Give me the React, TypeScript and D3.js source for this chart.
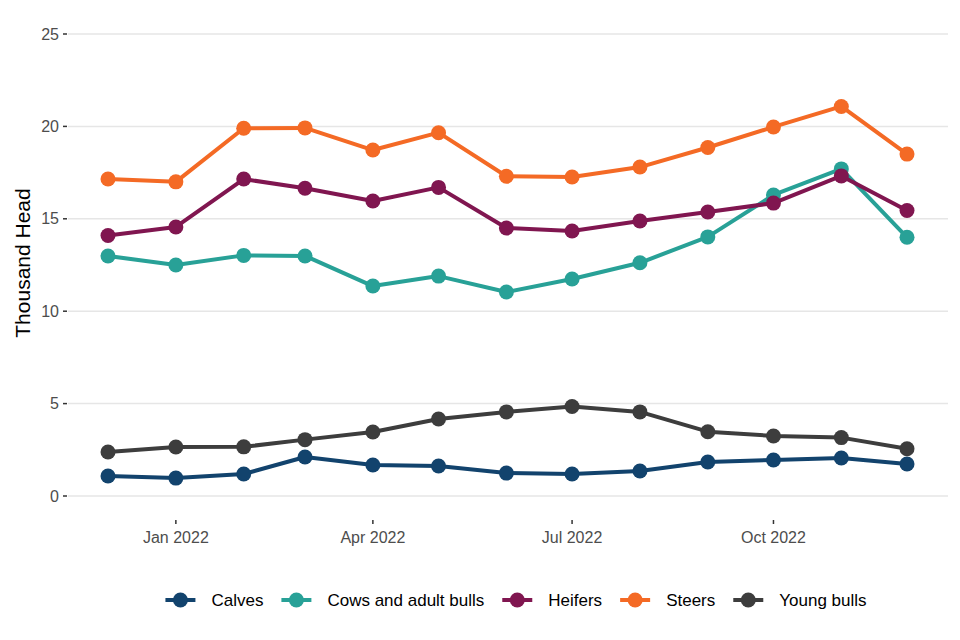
import React, { useEffect, useRef } from 'react';
import * as d3 from 'd3';

const months = [
  '2021-12', '2022-01', '2022-02', '2022-03', '2022-04', '2022-05', '2022-06',
  '2022-07', '2022-08', '2022-09', '2022-10', '2022-11', '2022-12',
];

const calves = [1.08, 0.97, 1.19, 2.11, 1.68, 1.62, 1.24, 1.19, 1.35, 1.84, 1.95, 2.06, 1.73];
const cows = [12.99, 12.5, 13.02, 12.99, 11.36, 11.9, 11.04, 11.74, 12.62, 14.02, 16.29, 17.7, 14.0];
const heifers = [14.1, 14.56, 17.15, 16.65, 15.96, 16.7, 14.5, 14.34, 14.88, 15.37, 15.85, 17.32, 15.45];
const steers = [17.15, 17.0, 19.9, 19.92, 18.72, 19.66, 17.3, 17.26, 17.8, 18.86, 19.97, 21.08, 18.5];
const youngBulls = [2.38, 2.65, 2.66, 3.05, 3.46, 4.17, 4.55, 4.84, 4.55, 3.48, 3.25, 3.16, 2.56];

const seriesNames = ['Calves', 'Cows and adult bulls', 'Heifers', 'Steers', 'Young bulls'];
const seriesValues = [calves, cows, heifers, steers, youngBulls];
const seriesColors = ['#12436D', '#28A197', '#801650', '#F46A25', '#3D3D3D'];

const xTicks = ['2022-01', '2022-04', '2022-07', '2022-10'];
const yTicks = [0, 5, 10, 15, 20, 25];

const parseMonth = d3.timeParse('%Y-%m');

const App: React.FC = () => {
  const ref = useRef<SVGSVGElement>(null);

  useEffect(() => {
    if (!ref.current) return;
    const svg = d3.select(ref.current);
    svg.selectAll('*').remove();

    const font = '"Liberation Sans", Arial, sans-serif';
    const panelLeft = 68;
    const panelRight = 948;

    const dates = months.map(m => parseMonth(m) as Date);
    const x = d3.scaleTime()
      .domain([dates[0], dates[dates.length - 1]])
      .range([108, 907]);
    const y = d3.scaleLinear().domain([0, 25]).range([496, 34]);

    // gridlines
    svg.append('g')
      .selectAll('line')
      .data(yTicks)
      .enter()
      .append('line')
      .attr('x1', panelLeft)
      .attr('x2', panelRight)
      .attr('y1', d => y(d))
      .attr('y2', d => y(d))
      .attr('stroke', '#e6e6e6')
      .attr('stroke-width', 1.5);

    // y axis ticks + labels
    const yAxis = svg.append('g');
    yTicks.forEach(t => {
      yAxis.append('line')
        .attr('x1', 63).attr('x2', 67)
        .attr('y1', y(t)).attr('y2', y(t))
        .attr('stroke', '#333').attr('stroke-width', 1.5);
      yAxis.append('text')
        .attr('x', 59).attr('y', y(t))
        .attr('dy', '0.35em')
        .attr('text-anchor', 'end')
        .attr('font-family', font)
        .attr('font-size', 16)
        .attr('fill', '#4d4d4d')
        .text(t);
    });

    // x axis ticks + labels
    const xAxis = svg.append('g');
    xTicks.forEach(m => {
      const d = parseMonth(m) as Date;
      xAxis.append('line')
        .attr('x1', x(d)).attr('x2', x(d))
        .attr('y1', 520).attr('y2', 524)
        .attr('stroke', '#333').attr('stroke-width', 1.5);
      xAxis.append('text')
        .attr('x', x(d)).attr('y', 537)
        .attr('dy', '0.35em')
        .attr('text-anchor', 'middle')
        .attr('font-family', font)
        .attr('font-size', 16)
        .attr('fill', '#4d4d4d')
        .text(d3.timeFormat('%b %Y')(d));
    });

    // y title
    svg.append('text')
      .attr('transform', `translate(30,${263}) rotate(-90)`)
      .attr('text-anchor', 'middle')
      .attr('font-family', font)
      .attr('font-size', 21)
      .attr('fill', '#000')
      .text('Thousand Head');

    // lines and points
    const line = d3.line<number>()
      .x((_, i) => x(dates[i]))
      .y(d => y(d));

    seriesValues.forEach((vals, si) => {
      const g = svg.append('g');
      g.append('path')
        .datum(vals)
        .attr('d', line)
        .attr('fill', 'none')
        .attr('stroke', seriesColors[si])
        .attr('stroke-width', 4)
        .attr('stroke-linejoin', 'round');
      g.selectAll('circle')
        .data(vals)
        .enter()
        .append('circle')
        .attr('cx', (_, i) => x(dates[i]))
        .attr('cy', d => y(d))
        .attr('r', 7.5)
        .attr('fill', seriesColors[si]);
    });

    // legend
    const legend = svg.append('g');
    const keyW = 30;
    const keyGap = 16;
    const itemGap = 18;
    const items: { g: d3.Selection<SVGGElement, unknown, null, undefined>; w: number }[] = [];
    seriesNames.forEach((name, i) => {
      const g = legend.append('g');
      g.append('line')
        .attr('x1', 0).attr('x2', keyW)
        .attr('y1', 0).attr('y2', 0)
        .attr('stroke', seriesColors[i])
        .attr('stroke-width', 4);
      g.append('circle')
        .attr('cx', keyW / 2).attr('cy', 0).attr('r', 7.5)
        .attr('fill', seriesColors[i]);
      const txt = g.append('text')
        .attr('x', keyW + keyGap)
        .attr('dy', '0.35em')
        .attr('font-family', font)
        .attr('font-size', 17)
        .attr('fill', '#000')
        .text(name);
      const tw = (txt.node() as SVGTextElement).getComputedTextLength();
      items.push({ g, w: keyW + keyGap + tw });
    });
    const total = d3.sum(items, d => d.w) + itemGap * (items.length - 1);
    let cx = 516 - total / 2;
    items.forEach(it => {
      it.g.attr('transform', `translate(${cx},600)`);
      cx += it.w + itemGap;
    });
  }, []);

  return (
    <svg
      ref={ref}
      width={960}
      height={640}
      style={{ position: 'absolute', left: 0, top: 0, background: '#fff' }}
    />
  );
};

export default App;
